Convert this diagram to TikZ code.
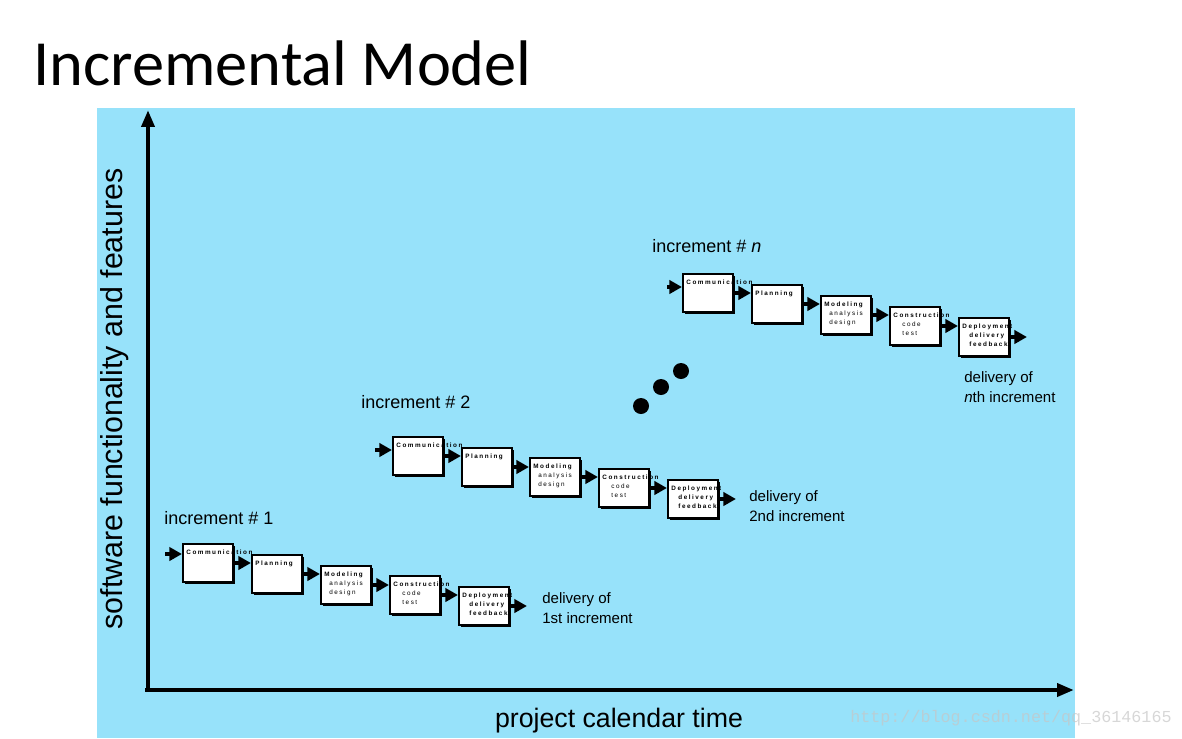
\documentclass[tikz,border=0pt]{standalone}
\usepackage{fontspec}
\setmainfont{Liberation Sans}
\newfontfamily\titlefont{Carlito}
\newfontfamily\phasefont[LetterSpace=24]{Liberation Sans}
\newfontfamily\markfont{Liberation Mono}
\usetikzlibrary{positioning,arrows.meta,shadows}
\definecolor{skyback}{RGB}{151,226,250}
\tikzset{
  % --- axes ------------------------------------------------------------------
  axis/.style={line width=3.4pt,-{Triangle[length=12pt,width=9pt]}},
  axlab/.style={inner sep=0pt},
  % --- phase boxes -----------------------------------------------------------
  phase/.style={rectangle,draw=black,line width=1.5pt,fill=white,
                minimum width=1.25cm,minimum height=0.94cm,inner sep=0pt,
                general shadow={fill=black,shadow xshift=1.6pt,shadow yshift=-1.6pt}},
  ptext/.style={font=\fontsize{4.5}{6.6}\selectfont\phasefont\bfseries,align=left,
                inner sep=0pt,anchor=north west,xshift=3pt,yshift=-4.3pt},
  stage/.style={phase,label={[ptext]north west:#1}},
  flow/.style={line width=3pt,-{Triangle[length=9pt,width=9.5pt]}},
  % --- texts and dots --------------------------------------------------------
  inclab/.style={font=\fontsize{12.8}{15}\selectfont,anchor=west,inner sep=0pt},
  dellab/.style={font=\fontsize{10.7}{14.5}\selectfont,anchor=west,align=left,
                 inner sep=0pt},
  bigdot/.style={circle,fill=black,minimum size=0.4cm,inner sep=0pt},
}

\begin{document}
\begin{tikzpicture}[x=0.025cm, y=-0.025cm]
  \useasboundingbox (0,0) rectangle (1182,738);
  \fill[skyback] (97,108) rectangle (1075,738);
  \node[font=\titlefont\fontsize{45.8}{50}\selectfont,anchor=base west,inner sep=0pt]
    (title) at (33,85) {Incremental Model};

  % axes
  \coordinate (o)      at (145,690);
  \coordinate (xend)   at (1074,690);
  \coordinate (ystart) at (148,692);
  \coordinate (yend)   at (148,110);
  \draw[axis] (o) -- (xend);
  \draw[axis] (ystart) -- (yend);
  \node[axlab,rotate=90,font=\fontsize{21.6}{24}\selectfont] (ylab) at (115,399)
    {software functionality and features};
  \node[axlab,font=\fontsize{19}{22}\selectfont] (xlab) at (619,721)
    {project calendar time};

  % increment 1
  \node[inclab] (inc1) at (164,518) {increment \# 1};
  \node[stage={Communication}] (b11) at (208,563) {};
  \node[stage={Planning}]      (b12) at (277,574) {};
  \node[stage={Modeling\\\hspace*{3.5pt}{\mdseries analysis}\\\hspace*{3.5pt}{\mdseries design}}]
    (b13) at (346,585) {};
  \node[stage={Construction\\\hspace*{6.4pt}{\mdseries code}\\\hspace*{6.4pt}{\mdseries test}}]
    (b14) at (415,595) {};
  \node[stage={Deployment\\\hspace*{5pt}delivery\\\hspace*{5pt}feedback}]
    (b15) at (484,606) {};
  \coordinate (in1)  at (165,554);
  \coordinate (out1) at ([xshift=12pt]b15.east);
  \draw[flow] (in1) -- (in1 -| b11.west);
  \draw[flow] (b11.east) -- (b11.east -| b12.west);
  \draw[flow] (b12.east) -- (b12.east -| b13.west);
  \draw[flow] (b13.east) -- (b13.east -| b14.west);
  \draw[flow] (b14.east) -- (b14.east -| b15.west);
  \draw[flow] (b15.east) -- (out1);
  \node[dellab] (del1) at (542,608) {delivery of\\1st increment};

  % increment 2
  \node[inclab] (inc2) at (361,402) {increment \# 2};
  \node[stage={Communication}] (b21) at (418,456) {};
  \node[stage={Planning}]      (b22) at (487,467) {};
  \node[stage={Modeling\\\hspace*{3.5pt}{\mdseries analysis}\\\hspace*{3.5pt}{\mdseries design}}]
    (b23) at (555,477) {};
  \node[stage={Construction\\\hspace*{6.4pt}{\mdseries code}\\\hspace*{6.4pt}{\mdseries test}}]
    (b24) at (624,488) {};
  \node[stage={Deployment\\\hspace*{5pt}delivery\\\hspace*{5pt}feedback}]
    (b25) at (693,499) {};
  \coordinate (in2)  at (375,450);
  \coordinate (out2) at ([xshift=12pt]b25.east);
  \draw[flow] (in2) -- (in2 -| b21.west);
  \draw[flow] (b21.east) -- (b21.east -| b22.west);
  \draw[flow] (b22.east) -- (b22.east -| b23.west);
  \draw[flow] (b23.east) -- (b23.east -| b24.west);
  \draw[flow] (b24.east) -- (b24.east -| b25.west);
  \draw[flow] (b25.east) -- (out2);
  \node[dellab] (del2) at (749,506) {delivery of\\2nd increment};

  % dots
  \node[bigdot] (d1) at (641,406) {};
  \node[bigdot] (d2) at (661,387) {};
  \node[bigdot] (d3) at (681,371) {};

  % increment n
  \node[inclab] (incn) at (652,246) {increment \# \textit{n}};
  \node[stage={Communication}] (bn1) at (708,293) {};
  \node[stage={Planning}]      (bn2) at (777,304) {};
  \node[stage={Modeling\\\hspace*{3.5pt}{\mdseries analysis}\\\hspace*{3.5pt}{\mdseries design}}]
    (bn3) at (846,315) {};
  \node[stage={Construction\\\hspace*{6.4pt}{\mdseries code}\\\hspace*{6.4pt}{\mdseries test}}]
    (bn4) at (915,326) {};
  \node[stage={Deployment\\\hspace*{5pt}delivery\\\hspace*{5pt}feedback}]
    (bn5) at (984,337) {};
  \coordinate (inn)  at (667,287);
  \coordinate (outn) at ([xshift=12pt]bn5.east);
  \draw[flow] (inn) -- (inn -| bn1.west);
  \draw[flow] (bn1.east) -- (bn1.east -| bn2.west);
  \draw[flow] (bn2.east) -- (bn2.east -| bn3.west);
  \draw[flow] (bn3.east) -- (bn3.east -| bn4.west);
  \draw[flow] (bn4.east) -- (bn4.east -| bn5.west);
  \draw[flow] (bn5.east) -- (outn);
  \node[dellab] (deln) at (964,387) {delivery of\\\textit{n}th increment};

  \node[font=\markfont\fontsize{11.9}{14}\selectfont,text=gray!45,text opacity=0.7,
        anchor=west,inner sep=0pt] (mark) at (850,718) {http://blog.csdn.net/qq\_36146165};
\end{tikzpicture}
\end{document}
